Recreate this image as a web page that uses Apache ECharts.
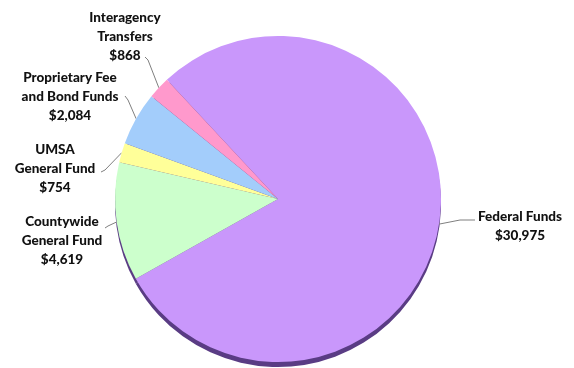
<!DOCTYPE html>
<html><head><meta charset="utf-8">
<script src="https://cdn.jsdelivr.net/npm/echarts@6/dist/echarts.min.js"></script>
<style>html,body{margin:0;padding:0;background:#fff}#c{width:574px;height:368px}</style>
</head><body><div id="c"></div>
<script>
const categories = ['Federal Funds', 'Countywide\nGeneral Fund', 'UMSA\nGeneral Fund', 'Proprietary Fee\nand Bond Funds', 'Interagency\nTransfers'];
const values = [30975, 4619, 754, 2084, 868];
const colors = ['#c997fb', '#ccffcc', '#ffff99', '#a3cdfb', '#ff99cc'];

// label anchor layout (x, y middle, line end)
const labelPlace = [
  {x: 520, y: 226, lx: 475, ly: 220, mx: 460, my: 220},
  {x: 62, y: 241, lx: 105, ly: 228, mx: 108, my: 226},
  {x: 55, y: 169, lx: 101, ly: 172, mx: 105, my: 170},
  {x: 70, y: 97, lx: 125, ly: 96, mx: 128, my: 100},
  {x: 125, y: 37, lx: 145, ly: 57, mx: 148, my: 60}
];

const chart = echarts.init(document.getElementById('c'));
const fmt = v => '$' + v.toLocaleString('en-US');
const data = categories.map((c, i) => ({name: c, value: values[i], itemStyle: {color: colors[i]}}));
const shadowData = categories.map((c, i) => ({name: c, value: values[i]}));

chart.setOption({
  animation: false,
  series: [
    {
      type: 'pie', silent: true, z: 1,
      center: [278, 204], radius: 163, startAngle: 133, clockwise: true,
      data: shadowData,
      itemStyle: {color: '#5a3c84', borderWidth: 0},
      label: {show: false}, labelLine: {show: false}
    },
    {
      type: 'pie', z: 2,
      center: [278, 199], radius: 163, startAngle: 133, clockwise: true,
      data: data,
      itemStyle: {borderWidth: 0},
      label: {
        show: true,
        formatter: p => p.name + '\n' + fmt(p.value),
        fontFamily: 'Lato', fontWeight: 900, fontSize: 13.5, lineHeight: 19,
        color: '#111', align: 'center', overflow: 'none', width: 130
      },
      labelLine: {show: true, lineStyle: {color: '#7f7f7f', width: 1}},
      labelLayout: function (params) {
        const p = labelPlace[params.dataIndex];
        const start = params.labelLinePoints ? params.labelLinePoints[0] : [p.mx, p.my];
        return {
          x: p.x, y: p.y, align: 'center', verticalAlign: 'middle',
          labelLinePoints: [start, [p.mx, p.my], [p.lx, p.ly]]
        };
      }
    }
  ]
});
</script></body></html>
